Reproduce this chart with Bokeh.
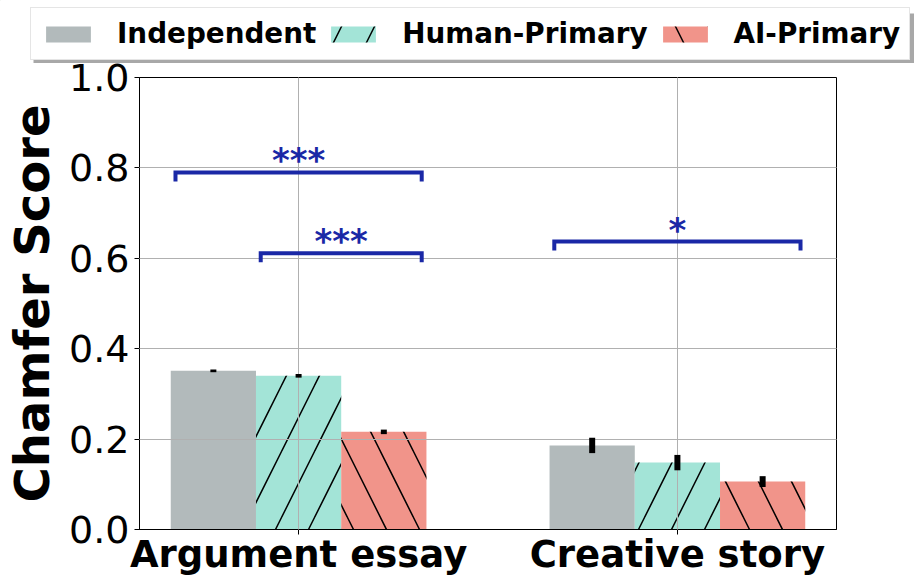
from bokeh.plotting import figure
from bokeh.layouts import column
from bokeh.models import (ColumnDataSource, Legend, LegendItem, FixedTicker,
                          PrintfTickFormatter, Range1d)
from bokeh.core.properties import value
from bokeh.embed import file_html
from bokeh.resources import INLINE

# ---------------- data ----------------
categories = ["Argument essay", "Creative story"]
series = ["Independent", "Human-Primary", "AI-Primary"]
independent = [0.351, 0.186]
independent_err = [0.003, 0.017]
human_primary = [0.340, 0.148]
human_primary_err = [0.004, 0.017]
ai_primary = [0.216, 0.106]
ai_primary_err = [0.005, 0.012]

y_ticks = [0.0, 0.2, 0.4, 0.6, 0.8, 1.0]

# significance brackets (x start, x end, height, label)
sig_x0 = [-0.325, -0.1, 0.675]
sig_x1 = [0.325, 0.325, 1.325]
sig_h = [0.790, 0.611, 0.637]
sig_label = ["***", "***", "*"]

# ---------------- style ----------------
colors = ["#B2BABB", "#A3E4D7", "#F1948A"]
hatches = [" ", "/", "\\"]
bar_w = 0.225
offsets = [-0.225, 0.0, 0.225]
sig_color = "#1a28a6"
FONT = "DejaVu Sans"
W = 914
LEG_H = 63
OVERLAP = 8


def bar_style(i):
    kw = dict(fill_color=colors[i], line_color=None)
    if hatches[i].strip():
        kw.update(hatch_pattern=hatches[i], hatch_color="black",
                  hatch_weight=1.5, hatch_scale=66)
    return kw


vals = [independent, human_primary, ai_primary]
errs = [independent_err, human_primary_err, ai_primary_err]
sources = []
for i, name in enumerate(series):
    xs = [k + offsets[i] for k in range(len(categories))]
    sources.append(ColumnDataSource(dict(
        x=xs, top=vals[i],
        lo=[v - e for v, e in zip(vals[i], errs[i])],
        hi=[v + e for v, e in zip(vals[i], errs[i])])))

# ---------------- legend strip (own figure) ----------------
lg = figure(width=W, height=LEG_H, output_backend="svg", toolbar_location=None,
            x_axis_location=None, y_axis_location=None,
            x_range=Range1d(0, W), y_range=Range1d(LEG_H, 0), min_border=0)
if "frame_align" in lg.properties():
    lg.frame_align = False
lg.grid.visible = False
lg.outline_line_color = None
lg.background_fill_color = None
lg.border_fill_color = None
# off-screen range so the legend's proxy bars are never visible in this strip
lg.extra_x_ranges = {"off": Range1d(100, 101)}

# legend drop shadow
lg.quad(left=[33], right=[917], top=[13], bottom=[63], fill_color="#a8a8a8",
        line_color=None)

proxies = [lg.vbar(x="x", top="top", width=bar_w, source=sources[i],
                   x_range_name="off", **bar_style(i)) for i in range(len(series))]

legend = Legend(items=[LegendItem(label=s, renderers=[r]) for s, r in zip(series, proxies)],
                orientation="horizontal", location=(30, 3),
                label_text_font=FONT, label_text_font_style="bold",
                label_text_font_size="27.8px", label_text_color="black",
                glyph_width=56, glyph_height=20, label_standoff=21, spacing=9,
                padding=9, margin=0, border_line_color="#cccccc",
                border_line_width=1, background_fill_color="white",
                background_fill_alpha=1)
lg.add_layout(legend, "center")

# ---------------- main chart ----------------
p = figure(width=W, height=515 + OVERLAP, output_backend="svg", toolbar_location=None,
           x_range=Range1d(-0.42, 1.42), y_range=Range1d(0, 1.0),
           min_border_left=139, min_border_right=78, min_border_top=14 + OVERLAP,
           min_border_bottom=48)
if "frame_align" in p.properties():
    p.frame_align = False
p.border_fill_color = None
p.margin = (-OVERLAP, 0, 0, 0)

for i, name in enumerate(series):
    p.vbar(x="x", top="top", width=bar_w, bottom=0, source=sources[i], **bar_style(i))
    p.segment(x0="x", x1="x", y0="lo", y1="hi", source=sources[i], line_color="black",
              line_width=6, level="annotation")

# brackets
drop = 0.02
b_xs = [[a, a, b, b] for a, b in zip(sig_x0, sig_x1)]
b_ys = [[h - drop, h, h, h - drop] for h in sig_h]
p.multi_line(xs=b_xs, ys=b_ys, line_color=sig_color, line_width=4,
             line_join="miter", level="annotation")
p.text(x=[(a + b) / 2 for a, b in zip(sig_x0, sig_x1)], y=sig_h, text=sig_label,
       text_align="center", text_baseline="alphabetic", y_offset=-12,
       text_font=value(FONT), text_font_style="bold", text_font_size="34px",
       text_color=sig_color, level="annotation")

# axes
p.xaxis.ticker = FixedTicker(ticks=list(range(len(categories))))
p.xaxis.major_label_overrides = {i: c for i, c in enumerate(categories)}
p.xaxis.major_label_text_font = FONT
p.xaxis.major_label_text_font_style = "bold"
p.xaxis.major_label_text_font_size = "37px"
p.xaxis.major_label_text_color = "black"
p.xaxis.major_label_standoff = -2
p.xaxis.minor_tick_line_color = None
p.xaxis.major_tick_out = 5
p.xaxis.major_tick_in = 0

p.yaxis.ticker = FixedTicker(ticks=y_ticks)
p.yaxis.formatter = PrintfTickFormatter(format="%.1f")
p.yaxis.major_label_text_font = FONT
p.yaxis.major_label_text_font_size = "38px"
p.yaxis.major_label_text_color = "black"
p.yaxis.major_label_standoff = 5
p.yaxis.minor_tick_line_color = None
p.yaxis.major_tick_out = 5
p.yaxis.major_tick_in = 0
p.yaxis.axis_label = "Chamfer Score"
p.yaxis.axis_label_text_font = FONT
p.yaxis.axis_label_text_font_style = "bold"
p.yaxis.axis_label_text_font_size = "48px"
p.yaxis.axis_label_text_color = "black"
p.yaxis.axis_label_standoff = 6

for ax in (p.xaxis, p.yaxis):
    ax.axis_line_color = "black"
    ax.major_tick_line_color = "black"

p.outline_line_color = "black"
p.outline_line_alpha = 1

p.xgrid.grid_line_color = "#b0b0b0"
p.ygrid.grid_line_color = "#b0b0b0"
p.xgrid.level = "guide"
p.ygrid.level = "guide"

layout = column(lg, p, spacing=0)
open("out.html", "w").write(file_html(layout, INLINE))
